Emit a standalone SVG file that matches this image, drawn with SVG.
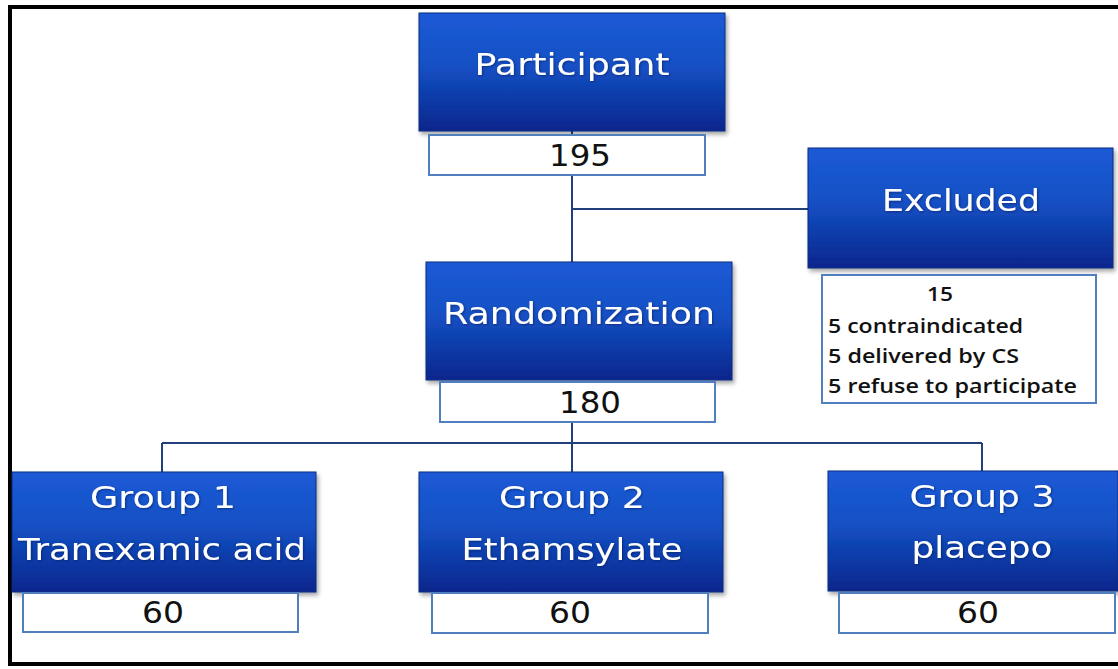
<svg xmlns="http://www.w3.org/2000/svg" width="1118" height="669" viewBox="0 0 1118 669">
<defs>
<linearGradient id="blueGrad" x1="0" y1="0" x2="0" y2="1">
<stop offset="0" stop-color="#1c5ad6"/>
<stop offset="0.45" stop-color="#1450c4"/>
<stop offset="1" stop-color="#08268c"/>
</linearGradient>
<filter id="shadow" x="-5%" y="-5%" width="112%" height="115%">
<feDropShadow dx="2" dy="3" stdDeviation="2" flood-color="#000" flood-opacity="0.35"/>
</filter>
<filter id="tshadow" x="-5%" y="-20%" width="110%" height="140%">
<feDropShadow dx="1" dy="1" stdDeviation="0.8" flood-color="#001a55" flood-opacity="0.6"/>
</filter>
</defs>
<style>
.blue{fill:url(#blueGrad);stroke:#0b2d80;stroke-width:1;filter:url(#shadow);}
.count{fill:#ffffff;stroke:#4f7fbf;stroke-width:2;}
.btxt{font-family:"DejaVu Sans","Verdana",sans-serif;font-size:30px;fill:#ffffff;text-anchor:middle;filter:url(#tshadow);}
.ntxt{font-family:"DejaVu Sans","Verdana",sans-serif;font-size:30px;fill:#111111;text-anchor:middle;}
.dtxt{font-family:"Open Sans","Liberation Sans",sans-serif;font-size:19px;font-weight:600;fill:#111111;}
.conn{stroke:#213f78;stroke-width:2;fill:none;}
</style>
<rect x="0" y="0" width="1118" height="669" fill="#ffffff"/>
<rect x="10" y="7" width="1110" height="657" fill="none" stroke="#000000" stroke-width="4"/>

<g id="connectors">
<line class="conn" x1="572" y1="131" x2="572" y2="262"/>
<line class="conn" x1="572" y1="209" x2="808" y2="209"/>
<line class="conn" x1="572" y1="422" x2="572" y2="472"/>
<line class="conn" x1="162" y1="443" x2="982" y2="443"/>
<line class="conn" x1="162" y1="443" x2="162" y2="472"/>
<line class="conn" x1="982" y1="443" x2="982" y2="471"/>
</g>

<g id="participant">
<rect class="blue" x="419" y="13" width="306" height="118"/>
<text class="btxt" x="572" y="75" textLength="195" lengthAdjust="spacingAndGlyphs">Participant</text>
<rect class="count" x="429" y="135" width="276" height="40"/>
<text class="ntxt" x="580" y="166" textLength="62" lengthAdjust="spacingAndGlyphs">195</text>
</g>

<g id="excluded">
<rect class="blue" x="808" y="148" width="305" height="120"/>
<text class="btxt" x="961" y="211" textLength="158" lengthAdjust="spacingAndGlyphs">Excluded</text>
<rect class="count" x="822" y="275" width="274" height="128"/>
<text class="dtxt" x="940" y="301" text-anchor="middle" textLength="26" lengthAdjust="spacingAndGlyphs">15</text>
<text class="dtxt" x="828" y="333" textLength="195" lengthAdjust="spacingAndGlyphs">5 contraindicated</text>
<text class="dtxt" x="828" y="363" textLength="191" lengthAdjust="spacingAndGlyphs">5 delivered by CS</text>
<text class="dtxt" x="828" y="393" textLength="249" lengthAdjust="spacingAndGlyphs">5 refuse to participate</text>
</g>

<g id="randomization">
<rect class="blue" x="426" y="262" width="306" height="118"/>
<text class="btxt" x="579" y="324" textLength="272" lengthAdjust="spacingAndGlyphs">Randomization</text>
<rect class="count" x="440" y="382" width="275" height="40"/>
<text class="ntxt" x="590" y="413" textLength="62" lengthAdjust="spacingAndGlyphs">180</text>
</g>

<g id="group1">
<rect class="blue" x="12" y="472" width="304" height="120"/>
<text class="btxt" x="163" y="508" textLength="146" lengthAdjust="spacingAndGlyphs">Group 1</text>
<text class="btxt" x="162" y="560" textLength="288" lengthAdjust="spacingAndGlyphs">Tranexamic acid</text>
<rect class="count" x="23" y="593" width="275" height="39"/>
<text class="ntxt" x="163" y="623" textLength="42" lengthAdjust="spacingAndGlyphs">60</text>
</g>

<g id="group2">
<rect class="blue" x="419" y="472" width="304" height="120"/>
<text class="btxt" x="572" y="508" textLength="146" lengthAdjust="spacingAndGlyphs">Group 2</text>
<text class="btxt" x="572" y="560" textLength="221" lengthAdjust="spacingAndGlyphs">Ethamsylate</text>
<rect class="count" x="432" y="593" width="276" height="40"/>
<text class="ntxt" x="570" y="623" textLength="42" lengthAdjust="spacingAndGlyphs">60</text>
</g>

<g id="group3">
<rect class="blue" x="828" y="471" width="290" height="120"/>
<text class="btxt" x="982" y="507" textLength="145" lengthAdjust="spacingAndGlyphs">Group 3</text>
<text class="btxt" x="982" y="558" textLength="141" lengthAdjust="spacingAndGlyphs">placepo</text>
<rect class="count" x="839" y="593" width="276" height="40"/>
<text class="ntxt" x="978" y="623" textLength="42" lengthAdjust="spacingAndGlyphs">60</text>
</g>
</svg>
